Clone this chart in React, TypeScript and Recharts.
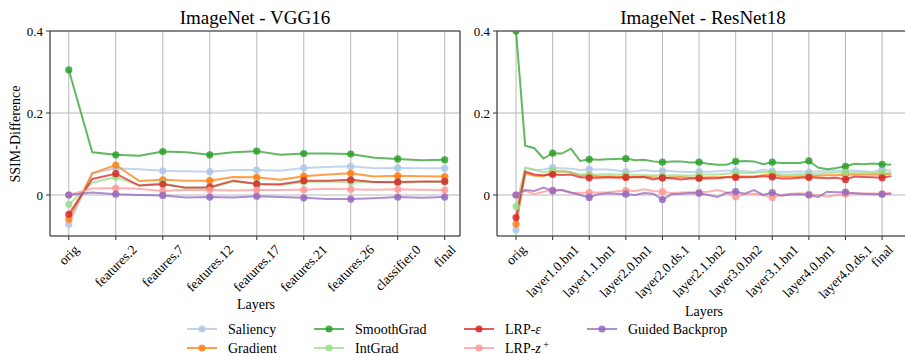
import React from 'react';
import { LineChart, Line, XAxis, YAxis, CartesianGrid, ReferenceLine } from 'recharts';

const FONT = '"Liberation Serif", "FreeSerif", serif';
const TICK_FONT = 13;
const XTICK_FONT = 13.5;

// tick labels
const vggLabels = ['orig', 'features.2', 'features.7', 'features.12', 'features.17', 'features.21', 'features.26', 'classifier.0', 'final'];
const resnetLabels = ['orig', 'layer1.0.bn1', 'layer1.1.bn1', 'layer2.0.bn1', 'layer2.0.ds.1', 'layer2.1.bn2', 'layer3.0.bn2', 'layer3.1.bn1', 'layer4.0.bn1', 'layer4.0.ds.1', 'final'];
const yTicks = [0, 0.2, 0.4];

// ImageNet - VGG16 (a marker every 2nd layer)
const vggSaliency = [-0.072, 0.053, 0.065, 0.063, 0.059, 0.058, 0.057, 0.061, 0.061, 0.059, 0.066, 0.068, 0.07, 0.065, 0.066, 0.065, 0.065];
const vggGradient = [-0.059, 0.053, 0.073, 0.034, 0.037, 0.035, 0.035, 0.044, 0.043, 0.037, 0.046, 0.05, 0.053, 0.045, 0.047, 0.046, 0.045];
const vggSmoothGrad = [0.305, 0.104, 0.098, 0.096, 0.106, 0.104, 0.098, 0.104, 0.107, 0.098, 0.101, 0.101, 0.1, 0.091, 0.088, 0.085, 0.086];
const vggIntGrad = [-0.023, 0.03, 0.044, 0.023, 0.029, 0.016, 0.017, 0.033, 0.027, 0.024, 0.032, 0.033, 0.031, 0.031, 0.03, 0.032, 0.032];
const vggLrpEps = [-0.047, 0.039, 0.052, 0.023, 0.026, 0.018, 0.019, 0.035, 0.027, 0.026, 0.035, 0.035, 0.037, 0.032, 0.032, 0.033, 0.033];
const vggLrpZ = [0.0, 0.016, 0.017, 0.015, 0.01, 0.013, 0.012, 0.011, 0.012, 0.012, 0.013, 0.015, 0.014, 0.013, 0.014, 0.013, 0.012];
const vggGuided = [0.0, 0.006, 0.002, 0.0, -0.001, -0.006, -0.005, -0.006, -0.003, -0.005, -0.007, -0.01, -0.01, -0.008, -0.005, -0.007, -0.005];

// ImageNet - ResNet18 (a marker every 4th layer)
const resSaliency = [-0.085, 0.065, 0.061, 0.062, 0.067, 0.065, 0.064, 0.061, 0.063, 0.062, 0.062, 0.06, 0.057, 0.058, 0.061, 0.058, 0.059, 0.058, 0.057, 0.056, 0.057, 0.057, 0.058, 0.06, 0.059, 0.058, 0.056, 0.062, 0.058, 0.056, 0.057, 0.058, 0.056, 0.058, 0.06, 0.06, 0.059, 0.06, 0.058, 0.056, 0.062, 0.06];
const resGradient = [-0.071, 0.053, 0.047, 0.046, 0.057, 0.058, 0.056, 0.047, 0.048, 0.046, 0.045, 0.045, 0.043, 0.044, 0.045, 0.043, 0.042, 0.043, 0.044, 0.042, 0.042, 0.043, 0.043, 0.044, 0.046, 0.045, 0.045, 0.048, 0.05, 0.046, 0.045, 0.046, 0.046, 0.047, 0.048, 0.048, 0.05, 0.05, 0.05, 0.05, 0.05, 0.052];
const resSmoothGrad = [0.4, 0.12, 0.114, 0.089, 0.102, 0.101, 0.113, 0.083, 0.087, 0.086, 0.087, 0.088, 0.089, 0.085, 0.086, 0.082, 0.08, 0.082, 0.082, 0.079, 0.08, 0.076, 0.074, 0.074, 0.082, 0.083, 0.082, 0.075, 0.08, 0.078, 0.078, 0.078, 0.083, 0.067, 0.063, 0.066, 0.07, 0.076, 0.075, 0.077, 0.075, 0.074];
const resIntGrad = [-0.028, 0.067, 0.062, 0.055, 0.06, 0.058, 0.055, 0.05, 0.05, 0.05, 0.051, 0.05, 0.05, 0.049, 0.048, 0.048, 0.047, 0.048, 0.048, 0.047, 0.049, 0.05, 0.05, 0.052, 0.054, 0.053, 0.054, 0.056, 0.055, 0.05, 0.05, 0.051, 0.05, 0.052, 0.054, 0.055, 0.055, 0.054, 0.055, 0.054, 0.054, 0.055];
const resLrpEps = [-0.055, 0.057, 0.05, 0.048, 0.05, 0.049, 0.05, 0.043, 0.042, 0.042, 0.043, 0.042, 0.043, 0.043, 0.044, 0.038, 0.042, 0.041, 0.038, 0.04, 0.041, 0.04, 0.041, 0.043, 0.043, 0.043, 0.044, 0.046, 0.044, 0.04, 0.04, 0.042, 0.043, 0.042, 0.041, 0.042, 0.038, 0.045, 0.044, 0.043, 0.042, 0.046];
const resLrpZ = [0.0, 0.01, 0.002, 0.008, 0.012, 0.012, 0.005, 0.005, 0.006, 0.006, 0.007, 0.009, 0.011, 0.01, 0.014, 0.01, 0.008, 0.005, 0.006, 0.007, 0.007, 0.008, 0.012, 0.006, -0.004, 0.002, 0.003, 0.0, -0.006, 0.0, 0.003, 0.004, 0.002, 0.0, -0.004, 0.0, 0.002, 0.004, 0.003, 0.004, 0.002, 0.006];
const resGuided = [0.0, 0.012, 0.01, 0.018, 0.01, 0.012, 0.006, 0.0, -0.006, 0.002, 0.004, 0.003, 0.002, 0.0, 0.005, 0.003, -0.011, 0.002, 0.003, 0.005, 0.004, 0.0, -0.005, 0.005, 0.008, 0.003, 0.012, 0.0, 0.006, -0.002, 0.001, 0.002, 0.0, -0.005, 0.008, 0.007, 0.007, 0.004, 0.003, 0.002, 0.002, 0.003];

// drawing order = legend order
const methods = [
  { key: 'saliency', name: 'Saliency', color: '#aec7e8' },
  { key: 'gradient', name: 'Gradient', color: '#ff7f0e' },
  { key: 'smoothgrad', name: 'SmoothGrad', color: '#2ca02c' },
  { key: 'intgrad', name: 'IntGrad', color: '#98df8a' },
  { key: 'lrpEps', name: 'LRP-ε', color: '#d62728' },
  { key: 'lrpZ', name: 'LRP-z+', color: '#ff9896' },
  { key: 'guided', name: 'Guided Backprop', color: '#9467bd' },
];

const buildRows = (s: number[][]) =>
  s[0].map((_, i) => ({
    idx: i,
    saliency: s[0][i],
    gradient: s[1][i],
    smoothgrad: s[2][i],
    intgrad: s[3][i],
    lrpEps: s[4][i],
    lrpZ: s[5][i],
    guided: s[6][i],
  }));

const vggRows = buildRows([vggSaliency, vggGradient, vggSmoothGrad, vggIntGrad, vggLrpEps, vggLrpZ, vggGuided]);
const resRows = buildRows([resSaliency, resGradient, resSmoothGrad, resIntGrad, resLrpEps, resLrpZ, resGuided]);

let measureCtx: CanvasRenderingContext2D | null = null;
function textWidth(s: string, size: number) {
  if (!measureCtx && typeof document !== 'undefined') {
    measureCtx = document.createElement('canvas').getContext('2d');
  }
  if (!measureCtx) return s.length * size * 0.45;
  measureCtx.font = `${size}px ${FONT}`;
  return measureCtx.measureText(s).width;
}

// matplotlib-style rotation=45, ha=center: rotated box centred under the tick
function RotatedTick(props: any) {
  const { x, y, payload, labels, step } = props;
  const label = labels[Math.round(payload.value / step)] ?? '';
  const L = textWidth(label, XTICK_FONT);
  const H = XTICK_FONT * 0.9;
  const d = (L + H) / (2 * Math.SQRT2);
  return (
    <text
      transform={`translate(${x},${y + d}) rotate(-45)`}
      textAnchor="middle"
      dominantBaseline="central"
      style={{ fontFamily: FONT, fontSize: XTICK_FONT }}
      fill="#000"
    >
      {label}
    </text>
  );
}

function YTick(props: any) {
  const { x, y, payload } = props;
  const v = payload.value;
  return (
    <text x={x} y={y} textAnchor="end" dominantBaseline="central" style={{ fontFamily: FONT, fontSize: TICK_FONT }} fill="#000">
      {v === 0 ? '0' : String(v)}
    </text>
  );
}

function Panel({ rows, labels, step, domain, left, width, yAxisWidth }: any) {
  const ticks = labels.map((_: string, i: number) => i * step);
  return (
    <div style={{ position: 'absolute', left, top: 0 }}>
      <LineChart width={width} height={354} data={rows} margin={{ top: 31, right: 10, bottom: 0, left: 0 }}>
        <CartesianGrid stroke="#b0b0b0" strokeWidth={0.9} />
        <XAxis
          type="number"
          dataKey="idx"
          domain={domain}
          ticks={ticks}
          interval={0}
          allowDataOverflow
          height={118}
          tickSize={4}
          tickMargin={3}
          axisLine={{ stroke: '#333', strokeWidth: 1 }}
          tickLine={{ stroke: '#333' }}
          tick={<RotatedTick labels={labels} step={step} />}
        />
        <YAxis
          type="number"
          domain={[-0.1, 0.4]}
          ticks={yTicks}
          interval={0}
          allowDataOverflow
          width={yAxisWidth}
          tickSize={4}
          tickMargin={3}
          axisLine={{ stroke: '#333', strokeWidth: 1 }}
          tickLine={{ stroke: '#333' }}
          tick={<YTick />}
        />
        <ReferenceLine y={0.4} stroke="#333" strokeWidth={1} />
        <ReferenceLine x={domain[1]} stroke="#333" strokeWidth={1} />
        {methods.map((m) => (
          <Line
            key={m.key}
            type="linear"
            dataKey={m.key}
            stroke={m.color}
            strokeOpacity={0.75}
            strokeWidth={2}
            isAnimationActive={false}
            activeDot={false}
            dot={(p: any) =>
              p.index % step === 0 ? (
                <circle key={`${m.key}-${p.index}`} cx={p.cx} cy={p.cy} r={3.6} fill={m.color} fillOpacity={0.85} />
              ) : (
                <g key={`${m.key}-${p.index}`} />
              )
            }
          />
        ))}
      </LineChart>
    </div>
  );
}

function LegendLabel({ name }: { name: string }) {
  if (name === 'LRP-ε') {
    return (
      <>
        LRP-<tspan fontStyle="italic">ε</tspan>
      </>
    );
  }
  if (name === 'LRP-z+') {
    return (
      <>
        LRP-<tspan fontStyle="italic">z</tspan>
        <tspan dy={-5} style={{ fontSize: 10 }}> +</tspan>
      </>
    );
  }
  return <>{name}</>;
}

const legendCols = [187, 314, 464, 587];
const legendRows = [329, 348];

export default function App() {
  // legend is laid out column-wise, two rows
  const legendItems = methods.map((m, i) => ({
    ...m,
    hx: legendCols[Math.floor(i / 2)],
    hy: legendRows[i % 2],
  }));
  const txt = (size: number) => ({ fontFamily: FONT, fontSize: size });
  return (
    <div style={{ position: 'absolute', left: 0, top: 0, width: 905, height: 354, overflow: 'hidden', background: '#fff', fontFamily: FONT }}>
      <Panel rows={vggRows} labels={vggLabels} step={2} domain={[-0.8, 16.65]} left={0} width={470} yAxisWidth={50} />
      <Panel rows={resRows} labels={resnetLabels} step={4} domain={[-2.08, 43.05]} left={440} width={480} yAxisWidth={57} />
      <svg width={905} height={354} style={{ position: 'absolute', left: 0, top: 0, pointerEvents: 'none' }}>
        <text x={255} y={24} textAnchor="middle" style={txt(19)}>ImageNet - VGG16</text>
        <text x={703} y={24} textAnchor="middle" style={txt(19)}>ImageNet - ResNet18</text>
        <text transform="translate(19.5,134) rotate(-90)" textAnchor="middle" style={txt(14)}>SSIM-Difference</text>
        <text x={256} y={309} textAnchor="middle" style={txt(14)}>Layers</text>
        <text x={704} y={316} textAnchor="middle" style={txt(14)}>Layers</text>
        {legendItems.map((it) => (
          <g key={it.key}>
            <line x1={it.hx} x2={it.hx + 30} y1={it.hy} y2={it.hy} stroke={it.color} strokeOpacity={0.75} strokeWidth={2} />
            <circle cx={it.hx + 15} cy={it.hy} r={3.6} fill={it.color} fillOpacity={0.85} />
            <text x={it.hx + 41} y={it.hy + 4.5} style={txt(14)}>
              <LegendLabel name={it.name} />
            </text>
          </g>
        ))}
      </svg>
    </div>
  );
}
